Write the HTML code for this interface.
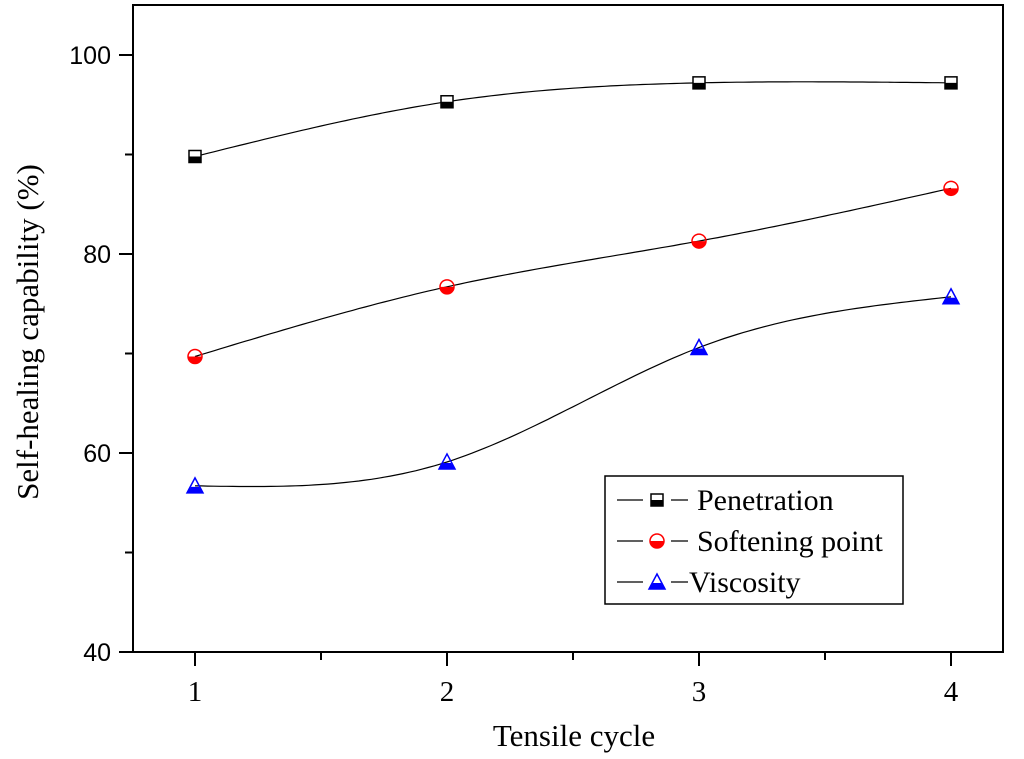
<!DOCTYPE html>
<html><head><meta charset="utf-8"><style>
html,body{margin:0;padding:0;background:#fff;}
svg{display:block;}
</style></head><body>
<svg id="chart" width="1024" height="759" xmlns="http://www.w3.org/2000/svg"></svg>
<script>
const categories = [1, 2, 3, 4];
const penetration = [89.8, 95.3, 97.2, 97.2];
const softening = [69.7, 76.7, 81.3, 86.6];
const viscosity = [56.7, 59.1, 70.6, 75.7];
const yTicks = [40, 60, 80, 100];
const xTicks = ['1', '2', '3', '4'];

const NS = 'http://www.w3.org/2000/svg';
const svg = document.getElementById('chart');
const L = 133, R = 1003, T = 5, B = 652;
const xs = v => 195 + (v - 1) * 252;
const ys = v => 652 - (v - 40) * 9.95;
function mk(tag, attrs, parent) {
  const e = document.createElementNS(NS, tag);
  for (const k in attrs) e.setAttribute(k, attrs[k]);
  (parent || svg).appendChild(e);
  return e;
}
const frame = mk('rect', {x: L, y: T, width: R - L, height: B - T, fill: 'none', stroke: '#000', 'stroke-width': 2});


yTicks.forEach(v => {
  const l = mk('line', {x1: L - 14, x2: L, y1: ys(v), y2: ys(v), stroke: '#000', 'stroke-width': 2});
  
  
  const t = mk('text', {x: L - 22, y: ys(v) + 9, 'text-anchor': 'end', 'font-family': 'Liberation Sans, sans-serif', 'font-size': 25});
  t.textContent = v;
  
  
});
for (let v = 50; v < 100; v += 20) {
  const l = mk('line', {x1: L - 8, x2: L, y1: ys(v), y2: ys(v), stroke: '#000', 'stroke-width': 2});
  
  
}
categories.forEach((c, i) => {
  const l = mk('line', {x1: xs(c), x2: xs(c), y1: B, y2: B + 14, stroke: '#000', 'stroke-width': 2});
  
  
  const t = mk('text', {x: xs(c), y: B + 49, 'text-anchor': 'middle', 'font-family': 'Liberation Serif, serif', 'font-size': 29});
  t.textContent = xTicks[i];
  
  
});
for (let v = 1.5; v < 4; v += 1) {
  const l = mk('line', {x1: xs(v), x2: xs(v), y1: B, y2: B + 8, stroke: '#000', 'stroke-width': 2});
  
  
}
const xt = mk('text', {x: 574, y: 746, 'text-anchor': 'middle', 'font-family': 'Liberation Serif, serif', 'font-size': 31});
xt.textContent = 'Tensile cycle';


const yt = mk('text', {x: 0, y: 0, 'text-anchor': 'middle', 'font-family': 'Liberation Serif, serif', 'font-size': 31, transform: 'translate(38,332) rotate(-90)'});
yt.textContent = 'Self-healing capability (%)';



function spline(xv, yv) {
  const n = xv.length, h = [], a = [], l = [1], mu = [0], z = [0], c = new Array(n).fill(0), b = [], d = [];
  for (let i = 0; i < n - 1; i++) h.push(xv[i + 1] - xv[i]);
  for (let i = 1; i < n - 1; i++) a[i] = 3 / h[i] * (yv[i + 1] - yv[i]) - 3 / h[i - 1] * (yv[i] - yv[i - 1]);
  for (let i = 1; i < n - 1; i++) {
    l[i] = 2 * (xv[i + 1] - xv[i - 1]) - h[i - 1] * mu[i - 1];
    mu[i] = h[i] / l[i];
    z[i] = (a[i] - h[i - 1] * z[i - 1]) / l[i];
  }
  for (let j = n - 2; j >= 0; j--) {
    if (j > 0) c[j] = z[j] - mu[j] * c[j + 1];
    else c[j] = 0;
    b[j] = (yv[j + 1] - yv[j]) / h[j] - h[j] * (c[j + 1] + 2 * c[j]) / 3;
    d[j] = (c[j + 1] - c[j]) / (3 * h[j]);
  }
  const pts = [];
  for (let j = 0; j < n - 1; j++) {
    for (let s = 0; s <= 40; s++) {
      const t = s / 40 * h[j];
      pts.push([xv[j] + t, yv[j] + b[j] * t + c[j] * t * t + d[j] * t * t * t]);
    }
  }
  return pts;
}
function marker(kind, x, y, color, name, parent) {
  const g = mk('g', {}, parent);
  
  
  if (kind === 'square') {
    mk('rect', {x: x - 6, y: y - 6, width: 12, height: 12, fill: '#fff', stroke: '#000', 'stroke-width': 1.5}, g);
    mk('rect', {x: x - 6, y: y, width: 12, height: 6, fill: '#000'}, g);
  } else if (kind === 'circle') {
    mk('path', {d: `M${x - 7},${y} A7,7 0 0 0 ${x + 7},${y} Z`, fill: color}, g);
    mk('circle', {cx: x, cy: y, r: 7, fill: 'none', stroke: color, 'stroke-width': 1.5}, g);
  } else {
    mk('path', {d: `M${x - 8},${y + 7} L${x + 8},${y + 7} L${x + 4},${y + 1} L${x - 4},${y + 1} Z`, fill: color}, g);
    mk('path', {d: `M${x},${y - 8} L${x + 8},${y + 7} L${x - 8},${y + 7} Z`, fill: 'none', stroke: color, 'stroke-width': 1.5}, g);
  }
}
const series = [
  {vals: penetration, kind: 'square', color: '#000', name: 'penetration'},
  {vals: softening, kind: 'circle', color: '#f00', name: 'softening-point'},
  {vals: viscosity, kind: 'triangle', color: '#00f', name: 'viscosity'}
];
series.forEach(s => {
  const pts = spline(categories, s.vals);
  const p = mk('path', {d: 'M' + pts.map(q => xs(q[0]).toFixed(1) + ',' + ys(q[1]).toFixed(1)).join(' L'), fill: 'none', stroke: '#000', 'stroke-width': 1.2});
  
  
  categories.forEach((c, i) => marker(s.kind, xs(c), ys(s.vals[i]), s.color, s.name + '-point'));
});
const lg = mk('g', {});


mk('rect', {x: 605, y: 476, width: 298, height: 128, fill: '#fff', stroke: '#000', 'stroke-width': 1.5}, lg);
const labels = ['Penetration', 'Softening point', 'Viscosity'];
const lxText = [697, 697, 689];
series.forEach((s, i) => {
  const y = 500 + i * 41;
  const e = mk('g', {}, lg);
  
  
  mk('line', {x1: 617, x2: 643, y1: y, y2: y, stroke: '#000', 'stroke-width': 1.2}, e);
  mk('line', {x1: 671, x2: 688, y1: y, y2: y, stroke: '#000', 'stroke-width': 1.2}, e);
  marker(s.kind, 657, y, s.color, 'legend-marker', e);
  const t = mk('text', {x: lxText[i], y: y + 10, 'font-family': 'Liberation Serif, serif', 'font-size': 30}, e);
  t.textContent = labels[i];
});
</script>
</body></html>
